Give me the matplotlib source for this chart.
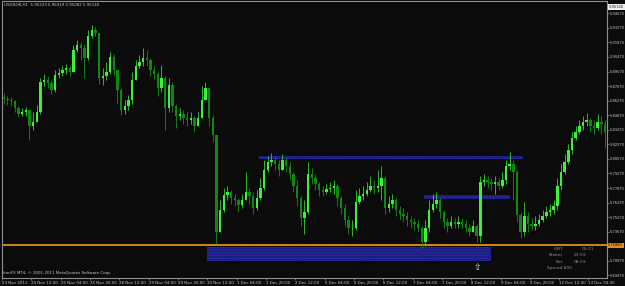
import matplotlib
matplotlib.use('Agg')
import matplotlib.pyplot as plt
from matplotlib.patches import Rectangle
import numpy as np

plt.rcParams['font.family'] = ['DejaVu Sans']
plt.rcParams['hatch.linewidth'] = 0.35

W, H = 625, 286

# 2-hour candles, USDNOK H1 chart 23 Nov - 13 Dec 2011
first_open = 5.8662
closes = [
    5.8643, 5.8633, 5.8624, 5.8557, 5.8499, 5.8518, 5.8537, 5.8384, 5.8422, 5.8518,
    5.8807, 5.8826, 5.8797, 5.8730, 5.8874, 5.8893, 5.8922, 5.8941, 5.8903, 5.9114,
    5.9162, 5.9133, 5.9037, 5.9249, 5.9307, 5.9278, 5.8845, 5.8864, 5.8903, 5.9047,
    5.8922, 5.8730, 5.8537, 5.8576, 5.8633, 5.8826, 5.8960, 5.8999, 5.9037, 5.9018,
    5.8922, 5.8883, 5.8749, 5.8845, 5.8557, 5.8778, 5.8576, 5.8480, 5.8499, 5.8460,
    5.8441, 5.8460, 5.8384, 5.8460, 5.8633, 5.8749, 5.8460, 5.8297, 5.7364, 5.7576,
    5.7720, 5.7749, 5.7691, 5.7672, 5.7624, 5.7672, 5.7749, 5.7710, 5.7595, 5.7691,
    5.7787, 5.7960, 5.8037, 5.8057, 5.8018, 5.7960, 5.8057, 5.7999, 5.7922, 5.7807,
    5.7691, 5.7499, 5.7557, 5.7922, 5.7884, 5.7826, 5.7768, 5.7749, 5.7778, 5.7787,
    5.7807, 5.7691, 5.7595, 5.7480, 5.7403, 5.7403, 5.7653, 5.7710, 5.7730, 5.7768,
    5.7807, 5.7787, 5.7807, 5.7884, 5.7595, 5.7634, 5.7672, 5.7576, 5.7537, 5.7518,
    5.7480, 5.7460, 5.7441, 5.7403, 5.7268, 5.7403, 5.7576, 5.7634, 5.7672, 5.7557,
    5.7460, 5.7422, 5.7460, 5.7441, 5.7460, 5.7441, 5.7403, 5.7364, 5.7422, 5.7326,
    5.7845, 5.7864, 5.7845, 5.7826, 5.7845, 5.7807, 5.7864, 5.7999, 5.8018, 5.7941,
    5.7528, 5.7364, 5.7518, 5.7441, 5.7422, 5.7441, 5.7480, 5.7518, 5.7557, 5.7576,
    5.7614, 5.7807, 5.7941, 5.8037, 5.8153, 5.8268, 5.8326, 5.8384, 5.8422, 5.8441,
    5.8384, 5.8364, 5.8422, 5.8403, 5.8326,
]
highs = [
    5.8701, 5.8672, 5.8662, 5.8633, 5.8576, 5.8557, 5.8566, 5.8537, 5.8518, 5.8585,
    5.8845, 5.8883, 5.8864, 5.8826, 5.8922, 5.8941, 5.8960, 5.8980, 5.8960, 5.9162,
    5.9210, 5.9191, 5.9172, 5.9307, 5.9355, 5.9335, 5.8922, 5.8941, 5.8999, 5.9095,
    5.9076, 5.8883, 5.8749, 5.8633, 5.8682, 5.8903, 5.9018, 5.9066, 5.9133, 5.9114,
    5.9037, 5.8960, 5.8903, 5.8970, 5.8864, 5.8845, 5.8807, 5.8595, 5.8557, 5.8537,
    5.8518, 5.8518, 5.8480, 5.8518, 5.8768, 5.8807, 5.8710, 5.8489, 5.8297, 5.7672,
    5.7787, 5.7807, 5.7768, 5.7730, 5.7691, 5.7730, 5.7941, 5.7787, 5.7749, 5.7768,
    5.7884, 5.8057, 5.8095, 5.8124, 5.8095, 5.8057, 5.8114, 5.8076, 5.8037, 5.7941,
    5.7864, 5.7710, 5.7672, 5.8037, 5.7980, 5.7922, 5.7845, 5.7807, 5.7826, 5.7845,
    5.7864, 5.7826, 5.7710, 5.7634, 5.7518, 5.7480, 5.7768, 5.7787, 5.7807, 5.7845,
    5.7903, 5.7864, 5.7960, 5.7999, 5.7903, 5.7710, 5.7730, 5.7691, 5.7614, 5.7595,
    5.7557, 5.7518, 5.7499, 5.7480, 5.7422, 5.7480, 5.7672, 5.7730, 5.7749, 5.7691,
    5.7576, 5.7499, 5.7518, 5.7499, 5.7518, 5.7499, 5.7480, 5.7441, 5.7480, 5.7441,
    5.7903, 5.7922, 5.7903, 5.7884, 5.7903, 5.7884, 5.7941, 5.8057, 5.8134, 5.8057,
    5.7960, 5.7557, 5.7653, 5.7557, 5.7499, 5.7518, 5.7537, 5.7576, 5.7614, 5.7634,
    5.7672, 5.7884, 5.8018, 5.8114, 5.8210, 5.8326, 5.8384, 5.8441, 5.8480, 5.8509,
    5.8460, 5.8441, 5.8499, 5.8480, 5.8441,
]
lows = [
    5.8595, 5.8585, 5.8576, 5.8518, 5.8470, 5.8480, 5.8480, 5.8249, 5.8345, 5.8460,
    5.8499, 5.8768, 5.8749, 5.8691, 5.8710, 5.8845, 5.8864, 5.8883, 5.8864, 5.8903,
    5.9095, 5.9018, 5.8845, 5.9018, 5.9230, 5.9249, 5.8787, 5.8778, 5.8826, 5.8883,
    5.8864, 5.8595, 5.8489, 5.8499, 5.8537, 5.8595, 5.8826, 5.8941, 5.8960, 5.8960,
    5.8864, 5.8826, 5.8672, 5.8710, 5.8345, 5.8518, 5.8518, 5.8364, 5.8441, 5.8403,
    5.8384, 5.8403, 5.8326, 5.8384, 5.8460, 5.8633, 5.8384, 5.8230, 5.7249, 5.7364,
    5.7557, 5.7672, 5.7634, 5.7614, 5.7557, 5.7595, 5.7672, 5.7634, 5.7537, 5.7576,
    5.7672, 5.7768, 5.7941, 5.7999, 5.7960, 5.7903, 5.7980, 5.7941, 5.7864, 5.7749,
    5.7614, 5.7422, 5.7345, 5.7537, 5.7826, 5.7768, 5.7710, 5.7710, 5.7730, 5.7749,
    5.7730, 5.7614, 5.7537, 5.7422, 5.7345, 5.7326, 5.7384, 5.7634, 5.7672, 5.7710,
    5.7749, 5.7730, 5.7749, 5.7672, 5.7537, 5.7557, 5.7595, 5.7518, 5.7480, 5.7460,
    5.7422, 5.7403, 5.7384, 5.7364, 5.7210, 5.7230, 5.7364, 5.7557, 5.7595, 5.7499,
    5.7403, 5.7364, 5.7403, 5.7403, 5.7403, 5.7403, 5.7364, 5.7326, 5.7364, 5.7268,
    5.7268, 5.7807, 5.7787, 5.7768, 5.7730, 5.7768, 5.7787, 5.7826, 5.7960, 5.7672,
    5.7460, 5.7307, 5.7326, 5.7364, 5.7384, 5.7384, 5.7422, 5.7460, 5.7499, 5.7518,
    5.7537, 5.7576, 5.7768, 5.7922, 5.8018, 5.8114, 5.8249, 5.8307, 5.8345, 5.8384,
    5.8326, 5.8307, 5.8345, 5.8307, 5.8172,
]

time_labels = ["23 Nov 2011", "24 Nov 12:00", "25 Nov 04:00", "25 Nov 20:00",
               "28 Nov 12:00", "29 Nov 04:00", "29 Nov 20:00", "30 Nov 12:00",
               "1 Dec 04:00", "1 Dec 20:00", "2 Dec 12:00", "5 Dec 04:00",
               "5 Dec 20:00", "6 Dec 12:00", "7 Dec 04:00", "7 Dec 20:00",
               "8 Dec 12:00", "9 Dec 04:00", "9 Dec 20:00", "12 Dec 12:00",
               "13 Dec 04:00"]
# 5.72270 sits under the level tag, so it is left out
price_ticks = [5.94670, 5.93270, 5.91870, 5.90470, 5.89070, 5.87670, 5.86270,
               5.84870, 5.83470, 5.82070, 5.80670, 5.79270, 5.77870, 5.76470,
               5.75070, 5.73670, 5.70870, 5.69470]

# drawn zones: (start hour, end hour, low price, high price)
zones = [(112, 267, 5.7086, 5.7220),
         (140, 284, 5.8063, 5.8095),
         (230, 277, 5.7682, 5.7720)]
level = 5.7235
level_label = "5.71880"

header = "USDNOK,H1  5.95223 5.96319 5.95082 5.95140"
copyright_txt = "IronFX MT4, \u00a9 2001-2011 MetaQuotes Software Corp."
clock_rows = [("GMT", "09:21"), ("Broker", "23:59"), ("Bar", "08:59")]
spread_txt = "Spread 800"

bg = '#0b0b0c'
grey = '#8e8e8e'
txt = '#c8c8c8'
clock_col = '#8a8a8a'

fig = plt.figure(figsize=(W / 100, H / 100), dpi=100, facecolor=bg)
ax = fig.add_axes([2 / W, 8 / H, 605 / W, 277 / H], facecolor=bg)

closes = np.array(closes)
opens = np.concatenate([[first_open], closes[:-1]])
highs = np.array(highs)
lows = np.array(lows)
x = np.arange(len(closes)) * 2 + 1.0
up = closes >= opens

# zones behind everything
for x0, x1, p0, p1 in zones:
    ax.add_patch(Rectangle((x0, p0), x1 - x0, p1 - p0, facecolor='#1d1d86',
                           edgecolor='#3b3bb4', hatch='......', lw=0, zorder=1))

ax.axhline(level, color='#e0901c', lw=1.3, zorder=2)

top = np.maximum(highs, np.maximum(opens, closes))
bot = np.minimum(lows, np.minimum(opens, closes))
ax.vlines(x, bot, top, colors=np.where(up, '#2fd42f', '#118f11'), lw=0.6, zorder=3)
ax.bar(x[up], (closes - opens)[up], bottom=opens[up], width=1.3,
       color='#3cf03c', lw=0, zorder=4)
ax.bar(x[~up], (closes - opens)[~up], bottom=opens[~up], width=1.3,
       color='#0c8a0c', lw=0, zorder=4)

ax.set_xlim(0.5, 330.1)
ax.set_ylim(5.6922, 5.9585)

for s in ax.spines.values():
    s.set_color(grey)
    s.set_linewidth(0.8)

ax.yaxis.tick_right()
ax.set_yticks(price_ticks)
ax.set_yticklabels(['%.5f' % p for p in price_ticks])
ax.set_xticks(np.arange(len(time_labels)) * 16)
ax.set_xticklabels(time_labels)
ax.tick_params(axis='y', colors=grey, labelcolor=txt, labelsize=2.6,
               length=1.5, width=0.5, pad=0.8)
ax.tick_params(axis='x', colors=grey, labelcolor=txt, labelsize=2.9,
               length=1.5, width=0.5, pad=1.0)
for lab in ax.get_xticklabels():
    lab.set_ha('left')

# current level tag on the price scale
ax.text(1.002, level, level_label, transform=ax.get_yaxis_transform(),
        fontsize=2.6, color='#111111', va='center', ha='left', zorder=6,
        clip_on=False, bbox=dict(boxstyle='square,pad=0.25', fc='#e0901c', ec='none'))

# texts in pixel positions
def ftext(px, py, s, **kw):
    fig.text(px / W, 1 - py / H, s, **kw)

ftext(4, 5, header, fontsize=2.9, color=txt, va='center')
ftext(608.5, 7, "5.95140", fontsize=2.6, color='#111111', va='center',
      bbox=dict(boxstyle='square,pad=0.25', fc='#f0f0f0', ec='none'))
ftext(3, 273, copyright_txt, fontsize=2.9, color=txt, va='center')
for i, (a, b) in enumerate(clock_rows):
    ftext(563, 248.5 + 6.7 * i, a, fontsize=3.2, color=clock_col, va='center', ha='right')
    ftext(574 if i else 582, 248.5 + 6.7 * i, b, fontsize=3.2, color=clock_col, va='center')
ftext(547, 268.5, spread_txt, fontsize=3.2, color=clock_col, va='center')
ftext(477, 268, "\u21e7", fontsize=6.5, color='#e8e8e8', va='center', ha='center')

fig.savefig('out.png', dpi=100, facecolor=bg)
